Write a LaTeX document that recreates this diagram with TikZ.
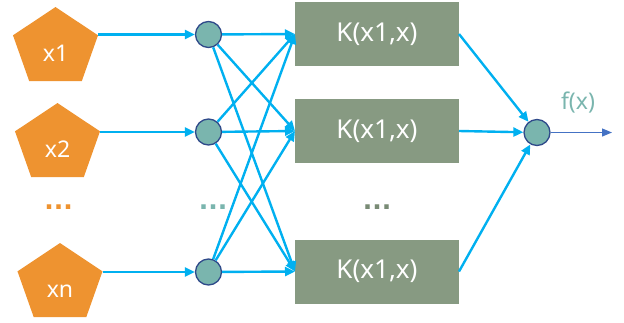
\documentclass[tikz,border=0pt]{standalone}
\usepackage{fontspec}
\setmainfont{Noto Sans}
\newfontfamily\dotfont{DejaVu Sans}
\usetikzlibrary{shapes.geometric,arrows.meta}
\definecolor{inorange}{HTML}{EE9330}
\definecolor{linkblue}{HTML}{00B0F0}
\definecolor{nodeteal}{HTML}{7AB5AE}
\definecolor{rimblue}{HTML}{2F4A8A}
\definecolor{kgreen}{HTML}{879A82}
\definecolor{outblue}{HTML}{4472C4}
% label set on a common baseline a little below the pentagon centre
\newcommand{\pentlabel}[1]{\raisebox{-13pt}[0pt][0pt]{\scalebox{0.92}[1]{#1}}}
\begin{document}
\begin{tikzpicture}[x=1pt,y=-1pt,
  inputnode/.style={regular polygon, regular polygon sides=5, minimum size=82pt,
    inner sep=0pt, outer sep=0pt, fill=inorange, text=white, xscale=1.09,
    transform shape, font=\fontsize{23}{23}\selectfont},
  neuron/.style={circle, minimum size=26pt, inner sep=0pt, fill=nodeteal,
    draw=rimblue, line width=1.3pt},
  kbox/.style={rectangle, minimum width=164pt, minimum height=64pt, inner sep=0pt,
    outer sep=0pt, fill=kgreen, text=white, font=\fontsize{26}{26}\selectfont},
  link/.style={draw=linkblue, line width=2.4pt,
    -{Triangle[length=10pt,width=9pt,fill=linkblue]}},
  dotrow/.style={anchor=base, font=\dotfont\bfseries\fontsize{25}{25}\selectfont}]
\useasboundingbox (0,0) rectangle (624,322);

% input layer
\node[inputnode] (p1) at (55.5,48) {\pentlabel{x1}};
\node[inputnode] (p2) at (57.5,144) {\pentlabel{x2}};
\node[inputnode] (pn) at (60,284) {\pentlabel{xn}};

% first neurons
\node[neuron] (c1) at (208.5,34.5) {};
\node[neuron] (c2) at (208.5,132) {};
\node[neuron] (cn) at (208.5,272) {};

% kernel boxes
\node[kbox] (k1) at (377,34) {K(x1,x)};
\node[kbox] (k2) at (377,131) {K(x1,x)};
\node[kbox] (kn) at (377,271.5) {K(x1,x)};

% output neuron
\node[neuron] (out) at (537,132.5) {};
\coordinate (fend) at (612,132.5);
\node[text=nodeteal, font=\fontsize{23}{23}\selectfont] (flabel) at (578,103) {f(x)};

% ellipses
\node[dotrow, text=inorange] (d1) at (58.5,209) {...};
\node[dotrow, text=nodeteal] (d2) at (213,209) {...};
\node[dotrow, text=kgreen!90!black] (d3) at (377,209) {...};

% input to neuron
\foreach \p/\c in {p1/c1,p2/c2,pn/cn}
  \draw[link] (\c.west -| \p.corner 5) -- (\c.west);

% fully connected neuron to kernel links
\foreach \c in {c1,c2,cn}
  \foreach \k in {k1,k2,kn}
    \draw[link] (\c) -- (\k.west);

% kernels to output
\foreach \k in {k1,k2,kn}
  \draw[link] (\k.east) -- (out);

% output arrow
\draw[draw=outblue, line width=1.2pt, -{Triangle[length=10pt,width=8pt,fill=outblue]}] (out) -- (fend);
\end{tikzpicture}
\end{document}
